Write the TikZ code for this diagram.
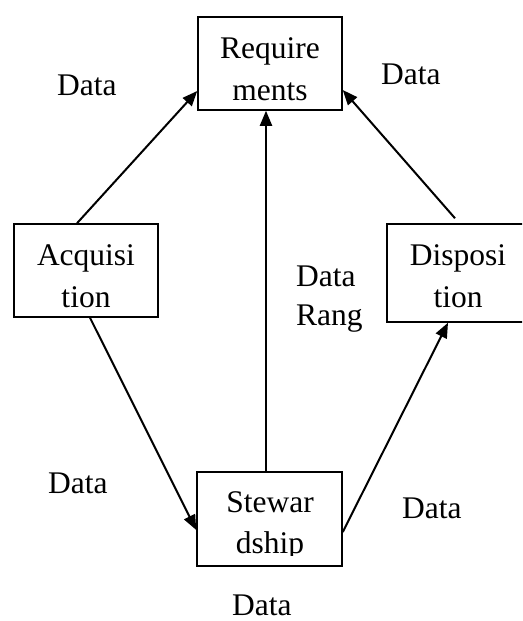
\documentclass[tikz,border=0pt]{standalone}
\usepackage{fontspec}
\setmainfont{Liberation Serif}
\usetikzlibrary{arrows.meta}

\begin{document}
\begin{tikzpicture}[x=1pt, y=-1pt,
  box/.style={draw, line width=1.5pt, inner sep=0pt},
  txt/.style={inner sep=0pt, anchor=base, font=\fontsize{31.5}{41}\selectfont},
  lbl/.style={inner sep=0pt, anchor=base west, font=\fontsize{31.5}{41}\selectfont},
  flow/.style={line width=2pt, -{Triangle[length=15pt, width=12pt]}}]

  \useasboundingbox (0,0) rectangle (522,621);
  \clip (0,0) rectangle (522,621);

  % the four boxes
  \node[box, minimum width=144pt, minimum height=93pt] (req)  at (270,63.5) {};
  \node[box, minimum width=144pt, minimum height=93pt] (acq)  at (86,270.5) {};
  \node[box, minimum width=142pt, minimum height=98pt] (disp) at (458,273) {};
  \node[box, minimum width=145pt, minimum height=94pt] (stew) at (269.5,519) {};

  % box texts, one line per node
  \node[txt] (req1)  at (270,58)  {Require};
  \node[txt] (req2)  at (270,100) {ments};
  \node[txt] (acq1)  at (86,265)  {Acquisi};
  \node[txt] (acq2)  at (86,307)  {tion};
  \node[txt] (disp1) at (458,265) {Disposi};
  \node[txt] (disp2) at (458,307) {tion};
  \node[txt] (stew1) at (270,512) {Stewar};
  \begin{scope}
    \clip (197,472) rectangle (342,555);
    \node[txt] (stew2) at (270,553) {dship};
  \end{scope}

  % connectors
  \draw[flow] ([xshift=-9pt]acq.north) -- ([yshift=-27.5pt]req.west);
  \draw[flow] ([xshift=-3pt, yshift=5pt]disp.north) -- ([yshift=-26.5pt]req.east);
  \draw[flow] ([xshift=-3.5pt]stew.north) -- ([xshift=-4pt]req.south);
  \draw[flow] ([xshift=4pt]acq.south) -- ([yshift=-11pt]stew.west);
  \draw[flow] ([yshift=-13pt]stew.east) -- ([xshift=-10pt]disp.south);

  % connector labels
  \node[lbl] (d1) at (57,95)   {Data};
  \node[lbl] (d2) at (381,84)  {Data};
  \node[lbl] (d3) at (296,286) {Data};
  \node[lbl] (d4) at (296,325) {Rang};
  \node[lbl] (d5) at (48,493)  {Data};
  \node[lbl] (d6) at (402,518) {Data};
  \node[lbl] (d7) at (232,615) {Data};
\end{tikzpicture}
\end{document}
